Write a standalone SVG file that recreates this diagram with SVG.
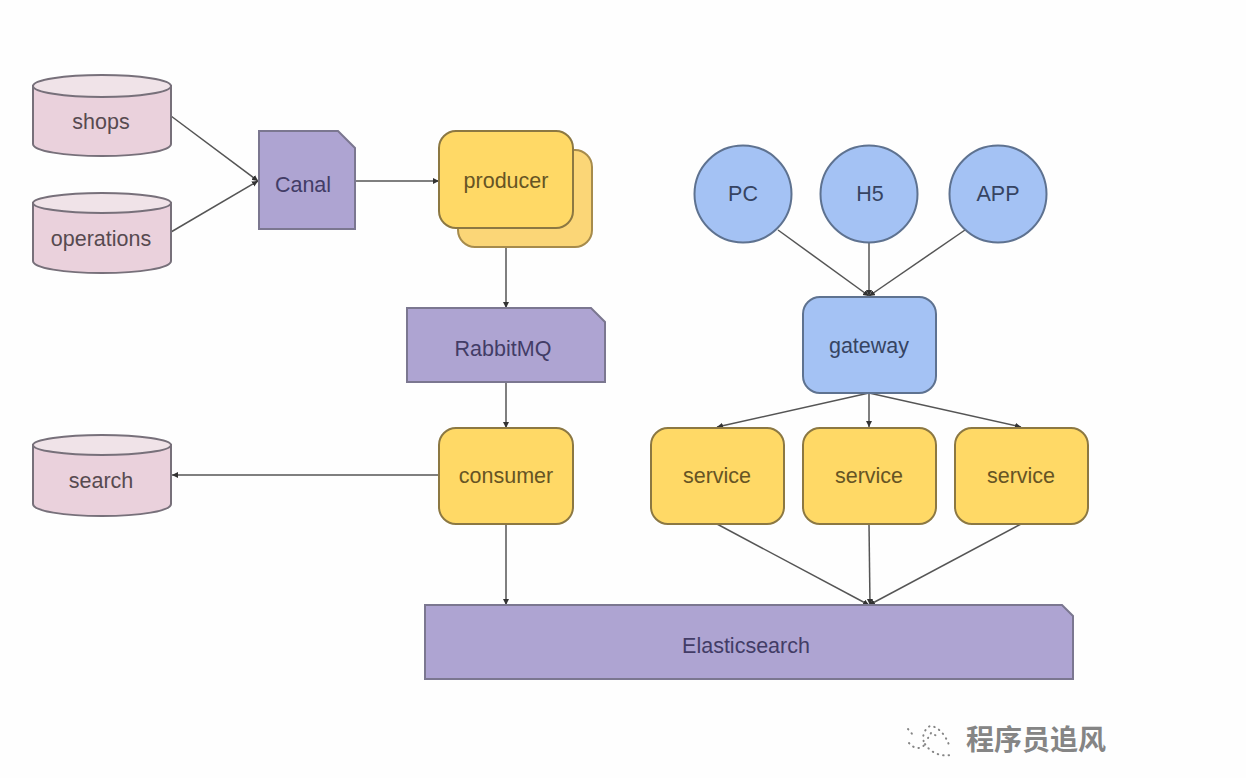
<svg xmlns="http://www.w3.org/2000/svg" width="1246" height="778" viewBox="0 0 1246 778">
<defs>
<marker id="arr" markerUnits="userSpaceOnUse" markerWidth="8" markerHeight="8" refX="6" refY="3" orient="auto"><path d="M0 0L6 3L0 6Z" fill="#333333"/></marker>
</defs>
<style>
text{font-family:"Liberation Sans",Arial,sans-serif;font-size:21.5px;text-anchor:middle;dominant-baseline:central}
.db{fill:#ead1dc;stroke:#77707a;stroke-width:2}
.dbt{fill:#f0e3e8;stroke:#77707a;stroke-width:2}
.pu{fill:#aea4d2;stroke:#7b7790;stroke-width:2}
.ye{fill:#ffd966;stroke:#8c7842;stroke-width:2}
.ye2{fill:#fbd677;stroke:#a68b4c;stroke-width:2}
.bl{fill:#a4c2f4;stroke:#5e7290;stroke-width:2}
.c{stroke:#555555;stroke-width:1.5;fill:none;marker-end:url(#arr)}
.tdb{fill:#574a50}.tpu{fill:#423c66}.tye{fill:#665424}.tbl{fill:#364462}
</style>
<rect width="1246" height="778" fill="#fefefe"/>
<g id="connectors">
<path class="c" d="M171 116L258 181"/>
<path class="c" d="M171 232L258 181"/>
<path class="c" d="M356 181L439 181"/>
<path class="c" d="M506 229V308"/>
<path class="c" d="M506 382V428"/>
<path class="c" d="M439 475H172"/>
<path class="c" d="M506 524V605"/>
<path class="c" d="M778 230L869 296"/>
<path class="c" d="M869 243V296"/>
<path class="c" d="M965 230L869 296"/>
<path class="c" d="M869 393L717 427"/>
<path class="c" d="M869 393V427"/>
<path class="c" d="M869 393L1021 427"/>
<path class="c" d="M717 524L869 605"/>
<path class="c" d="M869 524L870 605"/>
<path class="c" d="M1021 524L869 605"/>
</g>
<g id="shops"><path class="db" d="M33 86V144C33 151 64 156 102 156S171 151 171 144V86Z"/><ellipse class="dbt" cx="102" cy="86" rx="69" ry="11"/><text class="tdb" x="101" y="122">shops</text></g>
<g id="operations"><path class="db" d="M33 203V261C33 268 64 273 102 273S171 268 171 261V203Z"/><ellipse class="dbt" cx="102" cy="203" rx="69" ry="10"/><text class="tdb" x="101" y="239">operations</text></g>
<g id="search"><path class="db" d="M33 445V504C33 511 64 516 102 516S171 511 171 504V445Z"/><ellipse class="dbt" cx="102" cy="445" rx="69" ry="10"/><text class="tdb" x="101" y="481">search</text></g>
<g id="canal"><path class="pu" d="M259 131H338L355 148V229H259Z"/><text class="tpu" x="303" y="185">Canal</text></g>
<g id="producer"><rect class="ye2" x="458" y="150" width="134" height="97" rx="17"/><rect class="ye" x="439" y="131" width="134" height="97" rx="17"/><text class="tye" x="506" y="181">producer</text></g>
<g id="rabbitmq"><path class="pu" d="M407 308H591L605 322V382H407Z"/><text class="tpu" x="503" y="349">RabbitMQ</text></g>
<g id="consumer"><rect class="ye" x="439" y="428" width="134" height="96" rx="17"/><text class="tye" x="506" y="476">consumer</text></g>
<g id="pc"><circle class="bl" cx="743" cy="194" r="48.500"/><text class="tbl" x="743" y="194">PC</text></g>
<g id="h5"><circle class="bl" cx="869" cy="194" r="48.500"/><text class="tbl" x="870" y="194">H5</text></g>
<g id="app"><circle class="bl" cx="998" cy="194" r="48.500"/><text class="tbl" x="998" y="194">APP</text></g>
<g id="gateway"><rect class="bl" x="803" y="297" width="133" height="96" rx="17"/><text class="tbl" x="869" y="346">gateway</text></g>
<g id="service1"><rect class="ye" x="651" y="428" width="133" height="96" rx="17"/><text class="tye" x="717" y="476">service</text></g>
<g id="service2"><rect class="ye" x="803" y="428" width="133" height="96" rx="17"/><text class="tye" x="869" y="476">service</text></g>
<g id="service3"><rect class="ye" x="955" y="428" width="133" height="96" rx="17"/><text class="tye" x="1021" y="476">service</text></g>
<g id="elasticsearch"><path class="pu" d="M425 605H1062L1073 616V679H425Z"/><text class="tpu" x="746" y="646">Elasticsearch</text></g>
<g id="watermark">
<path d="M908 729L913 735M909 743C914 749 921 750 925 744C921 738 924 729 930 726C937 726 946 734 950 748M925 744C930 752 940 757 950 755M931 733L928 738M935 735L938 737" fill="none" stroke="#858585" stroke-width="2" stroke-dasharray="0.5 5" stroke-linecap="round"/>
<text x="1036" y="738" style="font-family:'Noto Sans CJK SC',sans-serif;font-size:28px;font-weight:700;fill:#858585">程序员追风</text>
</g>
</svg>
